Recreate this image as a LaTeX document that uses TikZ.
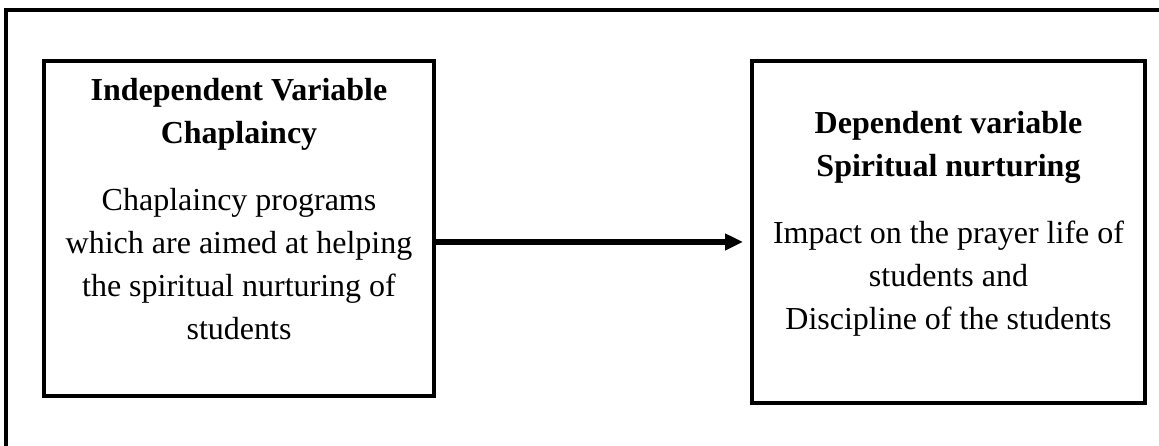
\documentclass[tikz,border=0pt]{standalone}
\usepackage{fontspec}
\setmainfont{Liberation Serif}
\usetikzlibrary{positioning,arrows.meta}

\begin{document}
\begin{tikzpicture}[x=1pt, y=1pt, >={Triangle[length=18pt,width=16pt]},
    box/.style={draw, line width=4pt, inner sep=0pt},
    txt/.style={align=center, inner sep=0pt, font=\fontsize{32}{43}\selectfont}]
      \useasboundingbox (0,0) rectangle (1159,446);
      % outer frame, only left and top edges show
      \draw [line width=4pt] (6,-5) |- (1170,436);
      \node [box, minimum width=390pt, minimum height=334.5pt] (indep) at (239,217.25) {};
      \node [box, minimum width=393pt, minimum height=341.5pt, right=314pt of indep.north east, anchor=north west] (dep) {};
      \node [txt, below=19pt of indep.north] (indeptext) {\textbf{Independent Variable}\\\textbf{Chaplaincy}\\[24pt]Chaplaincy programs\\which are aimed at helping\\the spiritual nurturing of\\students};
      \node [txt, yshift=8pt] (deptext) at (dep.center) {\textbf{Dependent variable}\\\textbf{Spiritual nurturing}\\[24pt]Impact on the prayer life of\\students and\\Discipline of the students};
      \coordinate (linkstart) at ([yshift=-13.25pt]indep.east);
      \draw [->, line width=6pt, shorten >=7pt] (linkstart) -- (linkstart -| dep.west);
\end{tikzpicture}
\end{document}
